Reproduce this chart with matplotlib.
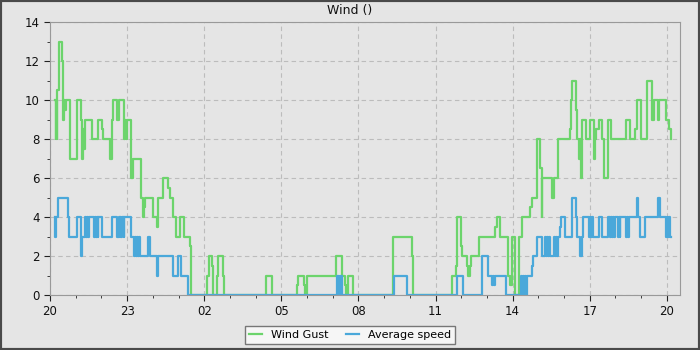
import numpy as np
import pandas as pd
import matplotlib
matplotlib.use('Agg')
import matplotlib.pyplot as plt
import matplotlib.dates as mdates
from matplotlib.patches import Rectangle

# hours after 20:00 and values (step changes)
gust_hours = [0.19, 0.22, 0.25, 0.27, 0.29, 0.34, 0.48, 0.50, 0.52, 0.56, 0.58, 0.62, 0.78,
              1.06, 1.21, 1.25, 1.28, 1.32, 1.36, 1.65, 1.85, 2.01, 2.08, 2.33, 2.40, 2.43,
              2.46, 2.62, 2.67, 2.70, 2.89, 2.92, 2.94, 2.98, 3.15, 3.17, 3.21, 3.53, 3.63,
              3.67, 3.70, 4.02, 4.15, 4.19, 4.41, 4.60, 4.65, 4.80, 4.89, 5.06, 5.21, 5.45,
              5.49, 6.12, 6.17, 6.30, 6.36, 6.51, 6.55, 6.72, 6.77, 8.39, 8.65, 9.60, 9.63,
              9.89, 9.92, 9.99, 11.13, 11.35, 11.48, 11.52, 11.58, 11.80, 13.33, 14.07, 14.13,
              15.63, 15.80, 15.82, 15.98, 16.02, 16.21, 16.25, 16.34, 16.37, 16.70, 17.31,
              17.38, 17.51, 17.83, 17.90, 17.96, 18.09, 18.25, 18.35, 18.68, 18.74, 18.94,
              19.07, 19.13, 19.15, 19.52, 19.61, 19.78, 20.23, 20.27, 20.30, 20.47, 20.52,
              20.60, 20.63, 20.66, 20.68, 20.69, 20.84, 21.01, 21.17, 21.21, 21.25, 21.34,
              21.49, 21.57, 21.70, 21.83, 22.41, 22.57, 22.76, 22.83, 22.99, 23.24, 23.42,
              23.50, 23.67, 23.71, 23.97, 24.09, 24.15]
gust_values = [10, 8, 10, 8, 10.5, 13, 12, 10, 9, 10, 9.5, 10, 7,
               10, 9, 7, 8.5, 7.5, 9, 8, 9, 8.5, 8, 7, 8, 9,
               10, 9, 9.5, 10, 8, 9, 8, 9, 8, 6, 7, 5, 4,
               4.5, 5, 4, 3.5, 5, 6, 5.5, 5, 4, 3, 4, 3, 2.5,
               0, 1, 2, 1.5, 0, 1, 2, 1, 0, 1, 0, 0.5, 1,
               0.5, 0, 1, 2, 1, 0.5, 0, 1, 0, 3, 2, 0,
               1, 1.5, 4, 2.5, 2, 1.5, 1, 1.5, 2, 3, 3.5,
               4, 3, 1, 0.5, 3, 0, 3, 4, 4.5, 5, 8,
               6.5, 4, 6, 5, 6, 8, 8.5, 10, 11, 9.5, 8,
               7, 8, 6, 8, 9, 8, 9, 7, 8, 8.5, 9,
               8, 6, 9, 8, 9, 8, 8.5, 10, 8, 11, 9,
               10, 9, 10, 9, 8.5, 8]

avg_hours = [0.19, 0.20, 0.24, 0.32, 0.69, 0.71, 0.75, 1.06, 1.21, 1.22, 1.26, 1.36, 1.40,
             1.44, 1.47, 1.50, 1.73, 1.76, 1.78, 1.82, 1.85, 1.88, 2.01, 2.40, 2.62, 2.68,
             2.71, 2.74, 2.78, 2.82, 2.86, 2.88, 3.15, 3.27, 3.30, 3.34, 3.37, 3.41, 3.45,
             3.50, 3.80, 3.89, 4.15, 4.21, 4.77, 4.99, 5.10, 5.38, 11.18, 11.25, 11.28,
             11.35, 13.40, 13.90, 15.85, 16.08, 16.80, 17.05, 17.18, 17.22, 17.26, 17.31,
             17.74, 18.33, 18.37, 18.40, 18.44, 18.47, 18.51, 18.55, 18.74, 18.81, 18.94,
             19.13, 19.26, 19.30, 19.34, 19.38, 19.42, 19.46, 19.52, 19.61, 19.66, 19.69,
             19.71, 19.78, 19.85, 19.89, 20.04, 20.30, 20.32, 20.45, 20.52, 20.62, 20.69,
             20.72, 20.75, 20.97, 21.01, 21.05, 21.09, 21.14, 21.34, 21.49, 21.70, 21.79,
             21.83, 21.87, 21.91, 21.95, 21.99, 22.09, 22.12, 22.16, 22.18, 22.41, 22.45,
             22.49, 22.53, 22.57, 22.83, 22.87, 22.96, 23.13, 23.67, 23.73, 23.97, 24.00,
             24.04, 24.08, 24.12, 24.15]
avg_values = [4, 3, 4, 5, 4.5, 4, 3, 4, 3, 2, 3, 4, 3,
              4, 3, 4, 3, 4, 3, 4, 3, 4, 3, 4, 3, 4,
              3, 4, 3, 4, 3, 4, 3, 2, 3, 2, 3, 2, 3,
              2, 3, 2, 1, 2, 1, 2, 1, 0, 1, 0, 1,
              0, 1, 0, 1, 0, 2, 1, 0.5, 1, 0.5, 1,
              0, 1, 0, 1, 0, 1, 0, 1, 1.5, 2, 3,
              2, 3, 2, 3, 2, 3, 2, 2, 3, 2, 3,
              2, 3, 3.5, 4, 3, 4, 5, 4, 3, 2, 3,
              3, 4, 3, 4, 3, 4, 3, 4, 3, 4, 3,
              4, 3, 4, 3, 4, 3, 4, 3, 4, 3, 4,
              3, 4, 4, 5, 4, 3, 4, 5, 4, 3, 4,
              3, 4, 3, 3]

start = pd.Timestamp('2024-01-01 20:00')
gust_t = start + pd.to_timedelta(gust_hours, unit='h')
avg_t = start + pd.to_timedelta(avg_hours, unit='h')

bg = '#e5e5e5'
fig = plt.figure(figsize=(7, 3.5), dpi=100, facecolor=bg)
ax = fig.add_axes([50 / 700, 55 / 350, 630 / 700, 273 / 350])
ax.set_facecolor(bg)

ax.plot(gust_t, gust_values, drawstyle='steps-post', color='#6cd46c', lw=1.6, label='Wind Gust')
ax.plot(avg_t, avg_values, drawstyle='steps-post', color='#4aa8da', lw=1.6, label='Average speed')

ax.set_xlim(start, start + pd.Timedelta(hours=24.51))
ax.set_ylim(0, 14)
ax.set_yticks(np.arange(0, 15, 2))
ax.set_yticks(np.arange(1, 14, 2), minor=True)
ax.xaxis.set_major_locator(mdates.HourLocator(byhour=range(2, 24, 3)))
ax.xaxis.set_minor_locator(mdates.HourLocator())
ax.xaxis.set_major_formatter(mdates.DateFormatter('%H'))

ax.grid(True, which='major', ls=(0, (4, 3)), color='#bcbcbc', lw=0.8)
for s in ax.spines.values():
    s.set_color('#999999')
ax.tick_params(which='major', length=4, labelsize=8.5, color='#222222', labelcolor='#111111')
ax.tick_params(which='minor', length=2.5, color='#222222')

fig.text(0.5, 0.97, 'Wind ()', ha='center', va='center', fontsize=9, color='#111111')

leg = fig.legend(loc='lower center', bbox_to_anchor=(0.5, 0.0), ncol=2, fontsize=8,
                 frameon=True, fancybox=False, handlelength=1.2, columnspacing=1.5,
                 borderpad=0.4)
leg.get_frame().set_facecolor('#f6f6f6')
leg.get_frame().set_edgecolor('#777777')
leg.get_frame().set_alpha(1)

fig.patches.append(Rectangle((0, 0), 1, 1, transform=fig.transFigure, fill=False,
                             edgecolor='#4a4a4a', lw=3))

fig.savefig('out.png', dpi=100, facecolor=bg)
